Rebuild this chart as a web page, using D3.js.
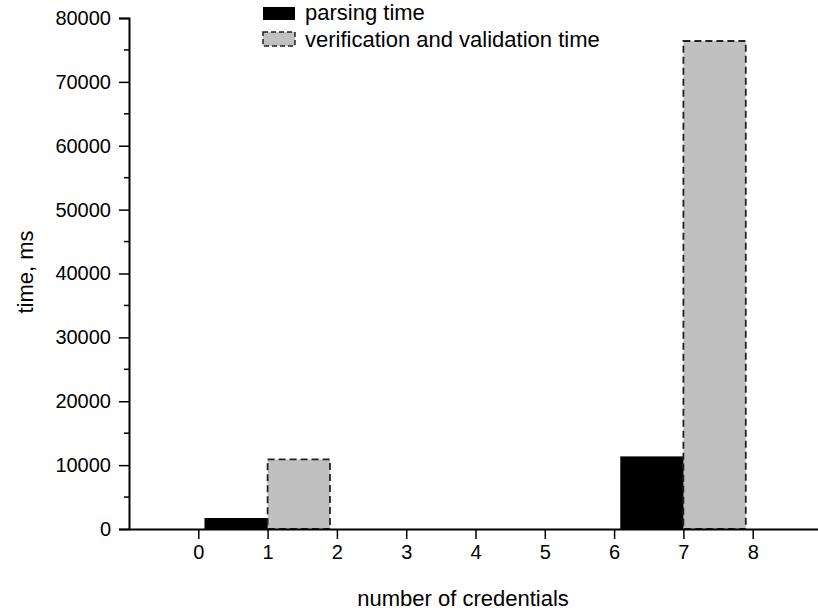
<!DOCTYPE html>
<html><head><meta charset="utf-8">
<script src="https://cdn.jsdelivr.net/npm/d3@7"></script>
<style>body{margin:0;background:#fff}svg{display:block}text{font-family:"Liberation Sans",Arial,sans-serif;fill:#000}</style>
</head><body><svg id="c" width="818" height="613"></svg>
<script>
const groups = [1, 7];
const parsingTime = [1600, 11250];
const verificationTime = [10900, 76400];
const seriesNames = ["parsing time", "verification and validation time"];
const xTicks = [0,1,2,3,4,5,6,7,8];
const yTicks = [0,10000,20000,30000,40000,50000,60000,70000,80000];

const svg = d3.select("#c");
const x = d3.scaleLinear().domain([-1, 9]).range([129, 822]);
const y = d3.scaleLinear().domain([0, 80000]).range([529, 18]);
const barW = 0.9;

// bars
const g = svg.append("g");
g.selectAll(".p").data(groups).enter().append("rect")
  .attr("x", (d) => x(d - barW)).attr("width", (d) => x(d) - x(d - barW))
  .attr("y", (d, i) => y(parsingTime[i])).attr("height", (d, i) => y(0) - y(parsingTime[i]))
  .attr("fill", "#000").attr("stroke", "#000").attr("stroke-width", 1.5);
g.selectAll(".v").data(groups).enter().append("rect")
  .attr("x", (d) => x(d)).attr("width", (d) => x(d + barW) - x(d))
  .attr("y", (d, i) => y(verificationTime[i])).attr("height", (d, i) => y(0) - y(verificationTime[i]))
  .attr("fill", "#c0c0c0").attr("stroke", "#222").attr("stroke-width", 1.8).attr("stroke-dasharray", "7,4");

// y axis
const yAxis = d3.axisLeft(y).tickValues(yTicks).tickSize(10).tickPadding(8).tickFormat(d3.format("d"));
const ya = svg.append("g").attr("transform", `translate(${x(-1)},0)`).call(yAxis);
ya.selectAll(".tick text").attr("font-size", 20).attr("font-family", "Liberation Sans, Arial");
ya.select(".domain").attr("stroke-width", 2);
ya.selectAll(".tick line").attr("stroke-width", 1.5);
const yMinor = d3.range(5000, 80000, 10000);
svg.append("g").selectAll("line").data(yMinor).enter().append("line")
  .attr("x1", x(-1) - 5).attr("x2", x(-1)).attr("y1", (d) => y(d)).attr("y2", (d) => y(d))
  .attr("stroke", "#000").attr("stroke-width", 1.5);

// x axis
const xAxis = d3.axisBottom(x).tickValues(xTicks).tickSize(10).tickPadding(6).tickSizeOuter(0).tickFormat(d3.format("d"));
const xa = svg.append("g").attr("transform", `translate(0,${y(0)})`).call(xAxis);
xa.selectAll(".tick text").attr("font-size", 20).attr("font-family", "Liberation Sans, Arial");
xa.select(".domain").attr("stroke-width", 2);
xa.selectAll(".tick line").attr("stroke-width", 1.5);

// titles
svg.append("text").attr("x", 463).attr("y", 606).attr("text-anchor", "middle").attr("font-size", 22).text("number of credentials");
svg.append("text").attr("transform", "translate(33,272) rotate(-90)").attr("text-anchor", "middle").attr("font-size", 22).text("time, ms");

// legend
const leg = svg.append("g");
leg.append("rect").attr("x", 263).attr("y", 7).attr("width", 32).attr("height", 13).attr("fill", "#000");
leg.append("rect").attr("x", 263).attr("y", 32).attr("width", 32).attr("height", 14)
  .attr("fill", "#c0c0c0").attr("stroke", "#222").attr("stroke-width", 1.5).attr("stroke-dasharray", "5,3");
leg.append("text").attr("x", 305).attr("y", 20).attr("font-size", 22).text(seriesNames[0]);
leg.append("text").attr("x", 305).attr("y", 47).attr("font-size", 22).text(seriesNames[1]);
</script></body></html>
